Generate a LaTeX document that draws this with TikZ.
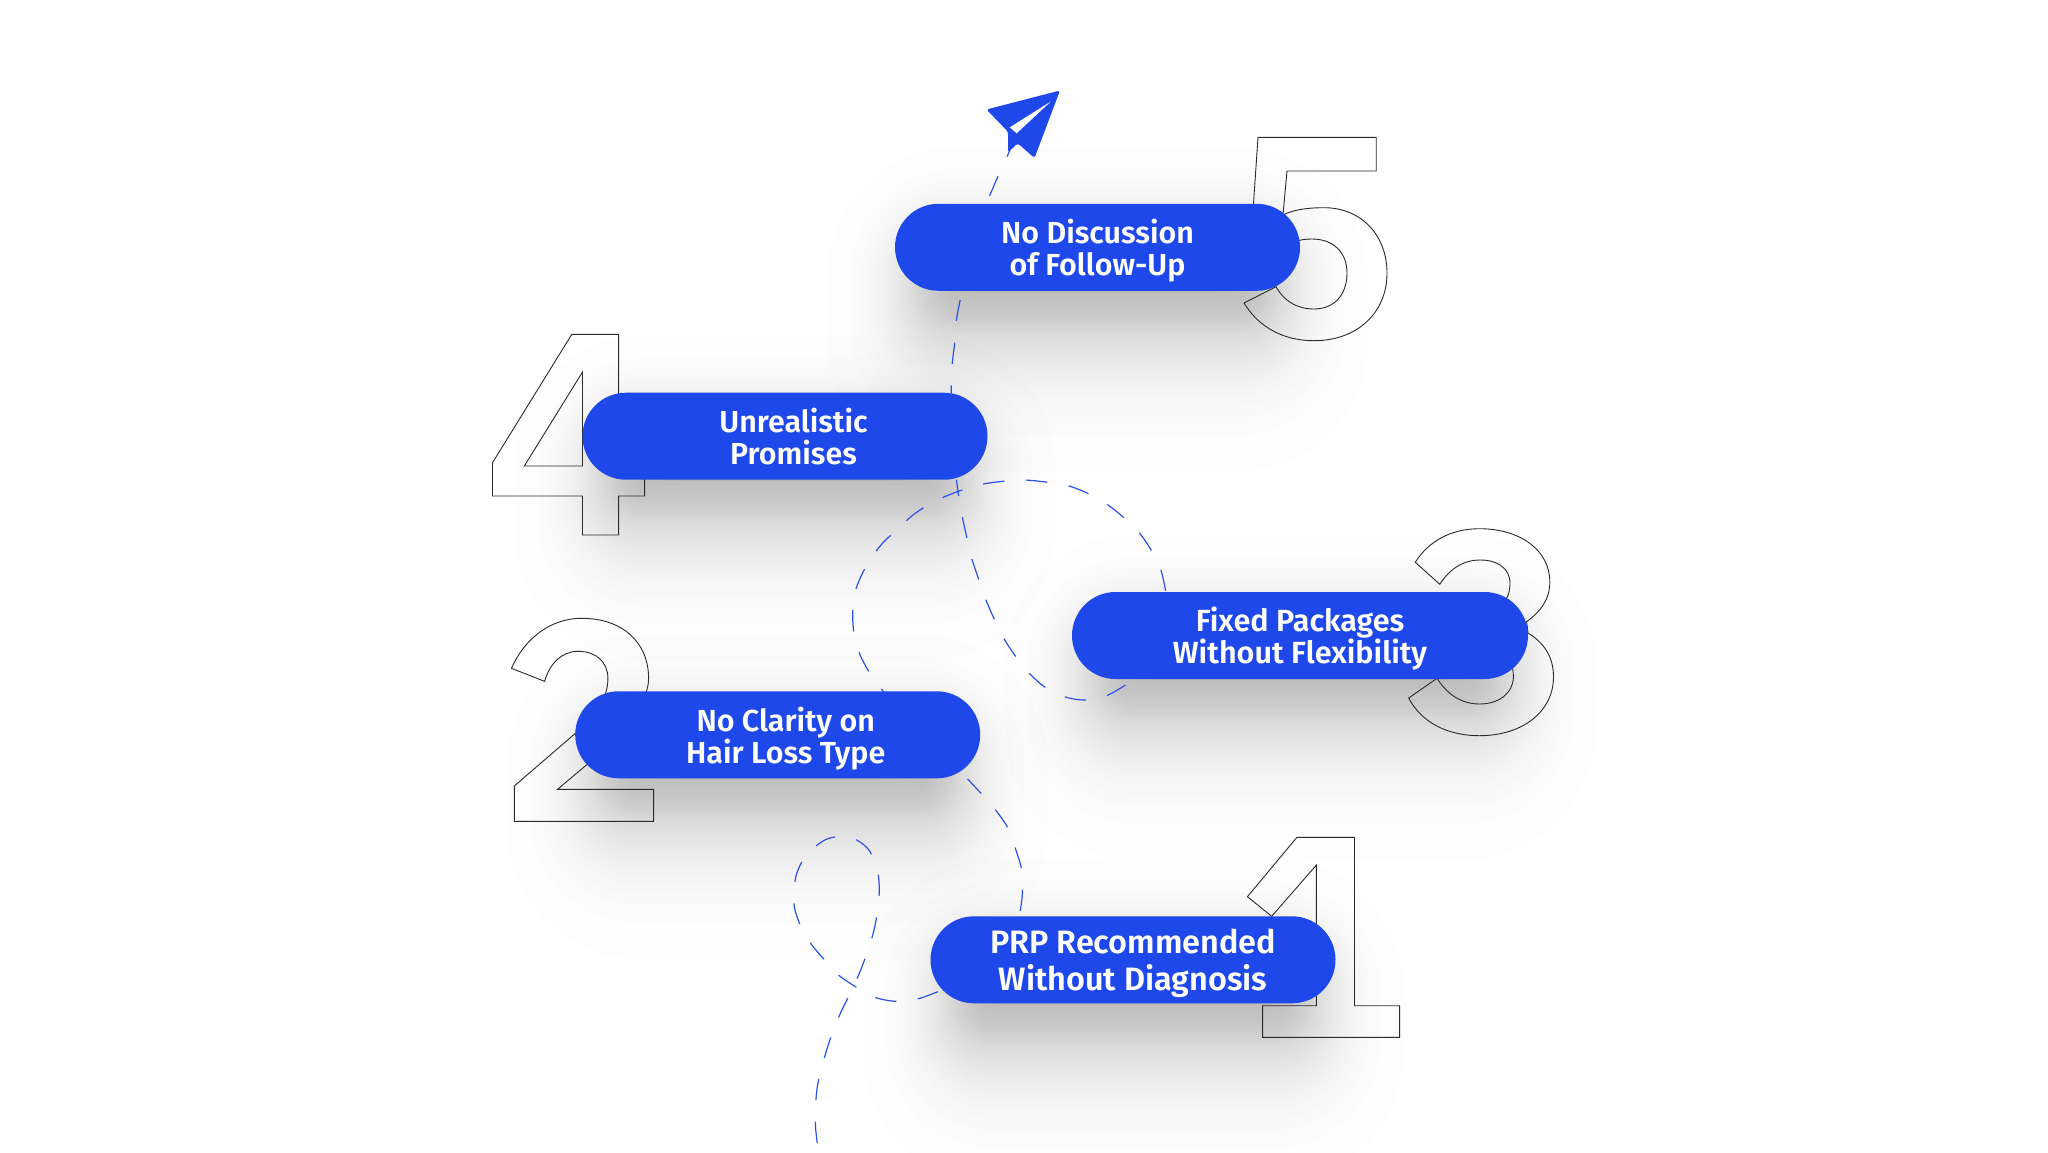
\documentclass[tikz,border=0pt]{standalone}
\usepackage{fontspec}
\setmainfont{Fira Sans SemiBold}
\definecolor{pillblue}{HTML}{1E48EA}
\definecolor{dashblue}{HTML}{2A50E8}
\definecolor{digitline}{HTML}{2A2A2A}
\tikzset{
  pill/.style={fill=pillblue,text=white,rectangle,rounded corners=43.5pt,minimum height=87pt,inner sep=0pt,align=center,font=\fontsize{#1}{32}\selectfont},
  pill/.default=30.4,
  digit/.style={draw=digitline,line width=0.9pt,line join=miter},
  route/.style={draw=dashblue,line width=1.2pt,dash pattern=on 21.4pt off 21.6pt},
}
% two-line label: fixed struts so that baselines sit as in the pills; #1 = x shift
\newcommand{\twolines}[4][0pt]{\hspace*{#1}\rule{0pt}{32.6pt}#2\\[#4]\hspace*{#1}#3\rule[-8pt]{0pt}{8pt}}
% soft shadow: stacked translucent rounded boxes (centre x, top y, width), longer tail downwards
\newcommand{\softshadow}[3]{%
  \foreach \k in {1,...,36}{%
    \pgfmathsetmacro{\pp}{(\k-0.5)/36}%
    \pgfmathsetmacro{\rr}{-20*ln(\pp/(1-\pp))}%
    \pgfmathsetmacro{\hh}{max(43.5+\rr,1)}%
    \pgfmathsetmacro{\ww}{#3/2-18+\rr}%
    \pgfmathsetmacro{\tail}{\hh+max(\rr,0)*0.6}%
    \fill[black,opacity=0.0075,rounded corners=\hh pt] (#1-\ww,#2+43.5+28-\hh) rectangle (#1+\ww,#2+43.5+44+\tail);
  }%
}
\begin{document}
\begin{tikzpicture}[x=1pt,y=-1pt]
\useasboundingbox (0,0) rectangle (2048,1152);
\fill[white] (0,0) rectangle (2048,1152);
% shadows
\softshadow{1097.5}{204}{405}
\softshadow{785}{392.7}{405}
\softshadow{1300}{592}{456}
\softshadow{777.7}{691.3}{405}
\softshadow{1133}{916.3}{405}
% digit outlines
\draw[digit] (1258,137.3)--(1376.2,137.3)--(1376.2,171)--(1287,171)--(1283,215) .. controls (1295,209) and (1310,207.7) .. (1324,207.7) .. controls (1362,207.7) and (1387,236) .. (1387,273) .. controls (1387,313) and (1357,340.7) .. (1314,340.7) .. controls (1282,340.7) and (1258,326) .. (1244,303) -- (1276,286.7) .. controls (1284,301) and (1297,309) .. (1314,309) .. controls (1334,309) and (1347,295) .. (1347,273) .. controls (1347,252) and (1333,239) .. (1312,239) .. controls (1295,239) and (1285,245) .. (1278,255) -- (1250,255) -- cycle;
\draw[digit] (571.8,334.3)--(618.6,334.3)--(618.6,466)--(644.6,466)--(644.6,496)--(618.6,496)--(618.6,535)--(582.5,535)--(582.5,496)--(492.5,496)--(492.5,462.7)--cycle;
\draw[digit] (582.5,372)--(582.5,466)--(524.3,466)--cycle;
\draw[digit] (1415.3,562.3) .. controls (1428,542) and (1450,528.7) .. (1479.5,528.7) .. controls (1520,528.7) and (1549.8,550) .. (1549.8,582) .. controls (1549.8,600) and (1540,612) .. (1526.6,621.7) -- (1528,633) .. controls (1543,642) and (1553.5,656) .. (1553.5,676.7) .. controls (1553.5,712) and (1522,735.7) .. (1479.5,735.7) .. controls (1447,735.7) and (1421,722) .. (1408.7,698) -- (1437,678.3) .. controls (1447,694) and (1461,704) .. (1479.5,704) .. controls (1499,704) and (1513.4,693) .. (1513.4,676.7) .. controls (1513.4,655) and (1497,645) .. (1475,645) -- (1475,612) .. controls (1497,612) and (1510,603) .. (1510,583.3) .. controls (1510,568) and (1497,560) .. (1480.4,560) .. controls (1462,560) and (1449,570) .. (1439.8,584.3) -- cycle;
\draw[digit] (511.4,668.3) .. controls (524,640) and (549,618.3) .. (581.8,618.3) .. controls (622,618.3) and (648.6,642) .. (648.6,678.3) .. controls (648.6,700) and (630,725) .. (586.4,765) -- (557.5,789.3) -- (653.6,789.3) -- (653.6,821.3) -- (514.3,821.3) -- (514.3,786) -- (575.4,733.3) .. controls (595,715) and (607.9,700) .. (607.9,678.3) .. controls (607.9,662) and (596,651.3) .. (578.2,651.3) .. controls (562,651.3) and (550,663) .. (544.6,681.3) -- cycle;
\draw[digit] (1296.9,837.3)--(1354.5,837.3)--(1354.5,1005.7)--(1399.6,1005.7)--(1399.6,1037.3)--(1262.6,1037.3)--(1262.6,1005.7)--(1316.4,1005.7)--(1316.4,865)--(1271.7,916.3)--(1247.4,896.7)--cycle;
% dashed flight route, one stretch per gap between pills
\draw[route] plot[smooth,tension=0.5] coordinates {
 (937.8,991.7) (917.4,999) (895.7,1001.3) (874.9,997.3) (854.5,986) (838.5,975) (823.7,959) (809.9,942.3) (799.5,923.3) (793.8,903) (796,876) (806.4,855) (826.3,839.3) (848.9,836.7) (867.5,848.3) (877,868.3) (879.3,889.3) (877.5,911.7) (873.2,933.3) (866.7,954) (858.9,974.3) (850.2,993.3) (841.1,1011.7) (833.3,1030) (827.2,1048.3) (821.6,1067.7) (817.2,1087.3) (815.5,1107.3) (815.5,1126.7) (817.7,1146.7)};
\draw[route,dash phase=1.5pt] plot[smooth,tension=0.5] coordinates {
 (967.5,779) (981,793.3) (995,809.3) (1007.1,826.7) (1015.7,849.3) (1021.8,870.7) (1022.4,894.3) (1019.3,916.3)};
\draw[route] plot[smooth,tension=0.5] coordinates {
 (1165.6,590.7) (1160.9,570) (1151.5,550.7) (1139.7,533.3) (1124.6,518.3) (1108,505) (1089.2,494) (1068.9,486) (1045.8,482) (1023,480) (999,481.7) (976.9,485.3) (955.6,492.3) (933,502) (913,515) (897.6,529) (882.5,543.3) (870.7,558.7) (860.8,576.7) (854.2,595) (852.7,615.7) (854.2,635) (859.8,654.3) (869.3,672.3) (881.5,689) (883.4,691.7)};
\draw[route] plot[smooth,tension=0.5] coordinates {
 (1125.5,685) (1106.6,695.7) (1084.4,700) (1064.2,696.7) (1044.3,686.7) (1027.8,671.7) (1014.6,655) (1002.8,636.7) (993.4,617.3) (984.9,597.3) (977.8,576.7) (971.2,556.7) (966.4,535.7) (961.8,514.3) (958.2,492.7) (956.4,479.7)};
\draw[route] plot[smooth,tension=0.5] coordinates {
 (960.2,300) (956.4,320) (954.7,342.7) (952.3,363.3) (951.3,386) (951.3,393)};
\draw[route] (989.5,196) -- (997.8,176.7) -- (1007.4,156) -- (1014,140);
% paper plane
\fill[pillblue,rounded corners=2.5pt] (1060,90.5)--(986.5,109.5)--(1008,131.7)--(1008,152.5)--(1017.7,143.3)--(1034.5,158)--cycle;
\fill[white] (1050.5,101.7)--(1009.8,127.3)--(1016.7,133.3)--cycle;
% pills
\node[pill,minimum width=405pt] (p5) at (1097.5,247.3) {\twolines{No Discussion}{of Follow-Up}{0pt}};
\node[pill,minimum width=405pt] (p4) at (785,436.2) {\twolines[17pt]{Unrealistic}{Promises}{0pt}};
\node[pill=30.6,minimum width=456pt] (p3) at (1300,635.5) {\twolines{Fixed Packages}{Without Flexibility}{0pt}};
\node[pill,minimum width=405pt] (p2) at (777.7,734.8) {\twolines[16pt]{No Clarity on}{Hair Loss Type}{0pt}};
\node[pill=32.4,minimum width=405pt] (p1) at (1133,959.8) {\twolines{PRP Recommended}{Without Diagnosis}{4.7pt}};
\end{tikzpicture}
\end{document}
